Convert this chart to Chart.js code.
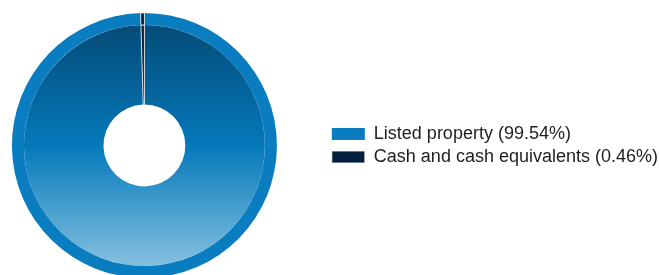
<!DOCTYPE html>
<html>
<head>
<meta charset="utf-8">
<script src="https://cdn.jsdelivr.net/npm/chart.js@4/dist/chart.umd.min.js"></script>
<style>
  html, body { margin: 0; padding: 0; background: #ffffff; overflow: hidden; }
  body { width: 659px; height: 275px; position: relative; }
  #wrap { position: absolute; left: -38px; top: 0; width: 706px; height: 291px; }
</style>
</head>
<body>
<div id="wrap"><canvas id="c"></canvas></div>
<script>
const categories = ['Listed property', 'Cash and cash equivalents'];
const values = [99.54, 0.46];
const legendLabels = ['Listed property (99.54%)', 'Cash and cash equivalents (0.46%)'];

const ringColors = ['#0a7dc1', '#041e3e'];
const cashColor = '#041e3e';

function innerFill(context) {
  const chart = context.chart;
  const ca = chart.chartArea;
  if (!ca) return '#0378b9';
  if (context.dataIndex === 1) return cashColor;
  const cy = (ca.top + ca.bottom) / 2;
  const r = 120;
  const g = chart.ctx.createLinearGradient(0, cy - r, 0, cy + r);
  g.addColorStop(0, '#044c78');
  g.addColorStop(0.5, '#0479ba');
  g.addColorStop(1, '#84c0df');
  return g;
}

new Chart(document.getElementById('c'), {
  type: 'doughnut',
  data: {
    labels: legendLabels,
    datasets: [
      {
        data: values,
        backgroundColor: ringColors,
        borderColor: ['rgba(0,0,0,0)', '#ffffff'],
        borderWidth: [0, 0.8],
        weight: 12
      },
      {
        data: values,
        backgroundColor: innerFill,
        borderColor: ['rgba(0,0,0,0)', '#ffffff'],
        borderWidth: [0, 0.8],
        weight: 79.5
      }
    ]
  },
  options: {
    responsive: true,
    maintainAspectRatio: false,
    animation: false,
    radius: 132.5,
    cutout: '30.9%',
    layout: { padding: 0 },
    plugins: {
      tooltip: { enabled: false },
      legend: {
        position: 'right',
        align: 'center',
        labels: {
          boxWidth: 33,
          boxHeight: 12,
          padding: 5,
          color: '#1e1e1e',
          font: { family: 'Liberation Sans, Arial, sans-serif', size: 18 }
        }
      }
    }
  }
});
</script>
</body>
</html>
